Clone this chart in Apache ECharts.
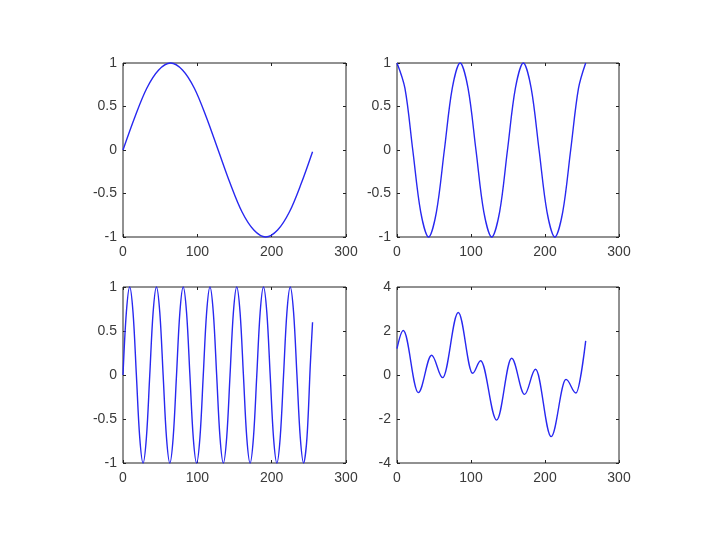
<!DOCTYPE html>
<html>
<head>
<meta charset="utf-8">
<script src="https://cdn.jsdelivr.net/npm/echarts@6/dist/echarts.min.js"></script>
<style>
  html, body { margin: 0; padding: 0; background: #fff; }
  #chart { width: 720px; height: 540px; }
</style>
</head>
<body>
<div id="chart"></div>
<script>
// 数据：四个子图的采样点
const x1 = [0, 16, 32, 48, 64, 80, 96, 112, 128, 144, 160, 176, 192, 208, 224, 240, 255]
const y1 = [0, 0.38, 0.71, 0.92, 1, 0.92, 0.71, 0.38, 0, -0.38, -0.71, -0.92, -1, -0.92, -0.71, -0.38, -0.02]

const x2 = [0, 10.7, 21.3, 32, 42.7, 53.3, 64, 74.7, 85.3, 96, 106.7, 117.3, 128, 138.7, 149.3, 160,
  170.7, 181.3, 192, 202.7, 213.3, 224, 234.7, 245.3, 255]
const y2 = [1, 0.71, 0, -0.71, -1, -0.71, 0, 0.71, 1, 0.71, 0, -0.71, -1, -0.71, 0, 0.71,
  1, 0.71, 0, -0.71, -1, -0.71, 0, 0.71, 1]

const x3 = [0, 4.5, 9, 13.5, 18, 22.5, 27, 31.5, 36, 40.5, 45, 49.5, 54, 58.5, 63, 67.5,
  72, 76.5, 81, 85.5, 90, 94.5, 99, 103.5, 108, 112.5, 117, 121.5, 126, 130.5, 135, 139.5,
  144, 148.5, 153, 157.5, 162, 166.5, 171, 175.5, 180, 184.5, 189, 193.5, 198, 202.5, 207, 211.5,
  216, 220.5, 225, 229.5, 234, 238.5, 243, 247.5, 252, 255]
const y3 = [0, 0.71, 1, 0.71, 0, -0.71, -1, -0.71, 0, 0.71, 1, 0.71, 0, -0.71, -1, -0.71,
  0, 0.71, 1, 0.71, 0, -0.71, -1, -0.71, 0, 0.71, 1, 0.71, 0, -0.71, -1, -0.71,
  0, 0.71, 1, 0.71, 0, -0.71, -1, -0.71, 0, 0.71, 1, 0.71, 0, -0.71, -1, -0.71,
  0, 0.71, 1, 0.71, 0, -0.71, -1, -0.71, 0.12, 0.6]

const x4 = [0, 8.5, 28.8, 46.8, 61.7, 82.8, 102.2, 113, 134.7, 154.9, 172.4, 187.2, 208.3, 228.4, 241.9, 255]
const y4 = [1.2, 2.02, -0.8, 0.9, -0.12, 2.84, 0.08, 0.65, -2.05, 0.76, -0.88, 0.26, -2.8, -0.2, -0.82, 1.55]

// 坐标轴范围 [min, max, interval]
const xRange = [0, 300, 100]
const ySin = [-1, 1, 0.5]
const yMix = [-4, 4, 2]

const chart = echarts.init(document.getElementById('chart'))

const grids = [
  { left: 123, top: 63, width: 223, height: 174 },
  { left: 397, top: 63, width: 222, height: 174 },
  { left: 123, top: 287, width: 223, height: 176 },
  { left: 397, top: 287, width: 222, height: 176 }
]
const yRanges = [ySin, ySin, ySin, yMix]

const lineColor = '#222'
const font = 'Liberation Sans, Arial, sans-serif'

const makeAxis = (i, range, position, showLabel) => ({
  gridIndex: i,
  type: 'value',
  position: position,
  min: range[0],
  max: range[1],
  interval: range[2],
  axisLine: { show: false, onZero: false },
  axisTick: { show: true, inside: true, length: 3, lineStyle: { color: lineColor } },
  axisLabel: {
    show: showLabel,
    color: '#3a3a3a',
    fontSize: 14,
    fontFamily: font,
    margin: (position === 'bottom') ? 8 : 6
  },
  splitLine: { show: false }
})

const xAxis = []
const yAxis = []
grids.forEach((g, i) => {
  xAxis.push(makeAxis(i, xRange, 'bottom', true))
  xAxis.push(makeAxis(i, xRange, 'top', false))
  yAxis.push(makeAxis(i, yRanges[i], 'left', true))
  yAxis.push(makeAxis(i, yRanges[i], 'right', false))
})

const pairs = (xs, ys) => xs.map((x, k) => [x, ys[k]])

const lineSeries = (i, data, extra) => Object.assign({
  type: 'line',
  xAxisIndex: 2 * i,
  yAxisIndex: 2 * i,
  data: data,
  symbol: 'none',
  smooth: 0.33,
  lineStyle: { color: '#2828f0', width: 1.4 },
  clip: false
}, extra || {})

const option = {
  backgroundColor: '#fff',
  animation: false,
  grid: grids.map(g => Object.assign({
    show: true,
    borderColor: lineColor,
    borderWidth: 1,
    backgroundColor: 'transparent'
  }, g)),
  xAxis: xAxis,
  yAxis: yAxis,
  series: [
    lineSeries(0, pairs(x1, y1)),
    lineSeries(1, pairs(x2, y2)),
    lineSeries(2, pairs(x3, y3)),
    lineSeries(3, pairs(x4, y4), { smooth: 0.36, smoothMonotone: 'x' })
  ]
}

chart.setOption(option)
</script>
</body>
</html>
